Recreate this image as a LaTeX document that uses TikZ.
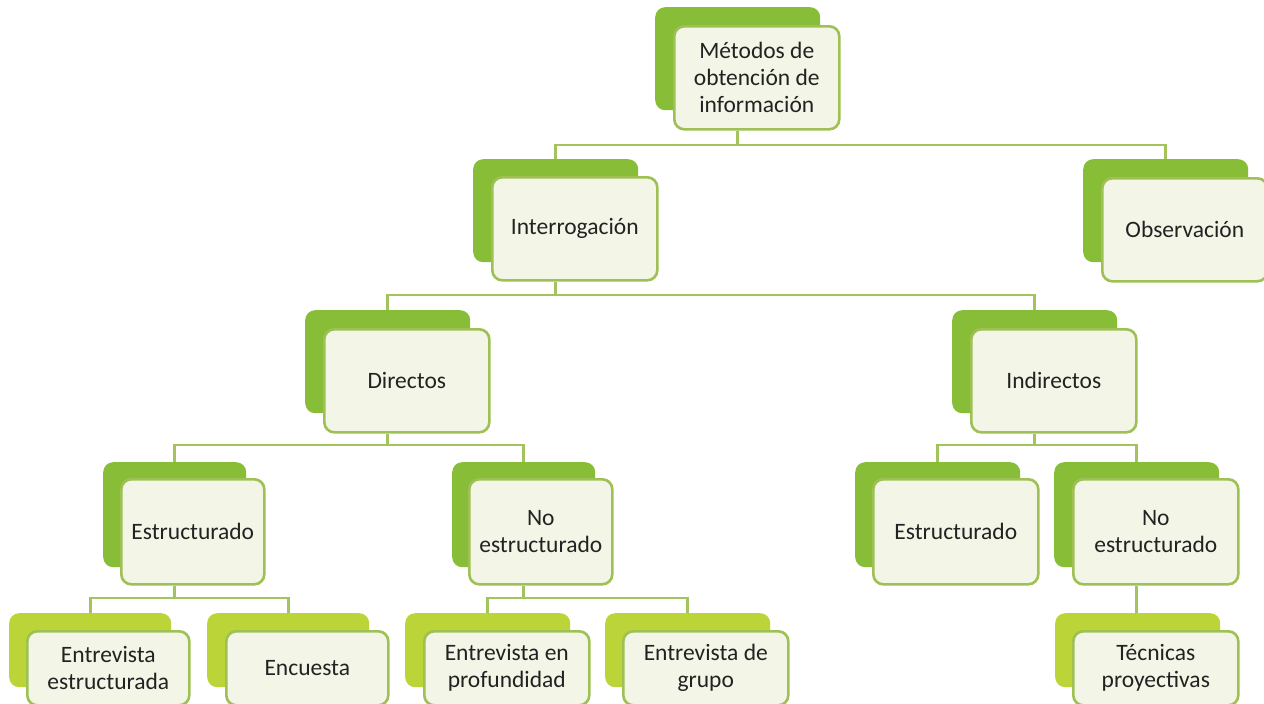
\documentclass[tikz,border=0pt]{standalone}
\usepackage{fontspec}
\setmainfont{Carlito}
\definecolor{backgreen}{HTML}{88BD38}
\definecolor{backyellow}{HTML}{BBD437}
\definecolor{frontline}{HTML}{9EC055}
\definecolor{frontfill}{HTML}{F3F5E7}
\definecolor{connline}{HTML}{A3C45C}
\definecolor{textcol}{HTML}{222222}
\tikzset{
  backbox/.style={fill=#1, rounded corners=10pt, inner sep=0pt, anchor=north west},
  frontbox/.style={draw=frontline, line width=2.6pt, fill=frontfill, rounded corners=10pt,
    inner sep=0pt, anchor=north west, align=center, text=textcol,
    font=\fontsize{23.5}{27}\selectfont},
  bigsize/.style={minimum width=165pt, minimum height=103pt},
  midsize/.style={minimum width=143pt, minimum height=105pt},
  widesize/.style={minimum width=165pt, minimum height=105pt},
  lowsize/.style={minimum width=162pt, minimum height=74pt},
  lowwide/.style={minimum width=165pt, minimum height=74pt},
  conn/.style={draw=connline, line width=2.6pt}
}
\begin{document}
\begin{tikzpicture}[x=1pt,y=-1pt]
\useasboundingbox (0,0) rectangle (1264,704);
\fill[white] (0,0) rectangle (1264,704);
% level 1
\node[backbox=backgreen, bigsize] (b1) at (655,7) {};
\node[frontbox, bigsize] (m1) at (673,25) {Métodos de\\obtención de\\información};
% level 2
\node[backbox=backgreen, bigsize] (b2) at (473,159) {};
\node[frontbox, bigsize] (m2) at (491,176) {Interrogación};
\node[backbox=backgreen, bigsize] (b3) at (1083,159) {};
\node[frontbox, bigsize] (m3) at (1101,177) {Observación};
% level 3
\node[backbox=backgreen, bigsize] (b4) at (305,310) {};
\node[frontbox, bigsize] (m4) at (323,328) {Directos};
\node[backbox=backgreen, bigsize] (b5) at (952,310) {};
\node[frontbox, bigsize] (m5) at (970,328) {Indirectos};
% level 4
\node[backbox=backgreen, midsize] (b6) at (103,462) {};
\node[frontbox, midsize] (m6) at (120,478) {Estructurado};
\node[backbox=backgreen, midsize] (b7) at (452,462) {};
\node[frontbox, midsize] (m7) at (468,478) {No\\estructurado};
\node[backbox=backgreen, widesize] (b8) at (855,462) {};
\node[frontbox, widesize] (m8) at (872,478) {Estructurado};
\node[backbox=backgreen, widesize] (b9) at (1054,462) {};
\node[frontbox, widesize] (m9) at (1072,478) {No\\estructurado};
% level 5
\node[backbox=backyellow, lowsize] (b10) at (9,613) {};
\node[frontbox, lowsize] (m10) at (26,630) {Entrevista\\estructurada};
\node[backbox=backyellow, lowsize] (b11) at (207,613) {};
\node[frontbox, lowsize] (m11) at (225,630) {Encuesta};
\node[backbox=backyellow, lowwide] (b12) at (405,613) {};
\node[frontbox, lowwide] (m12) at (423,630) {Entrevista en\\profundidad};
\node[backbox=backyellow, lowwide] (b13) at (605,613) {};
\node[frontbox, lowwide] (m13) at (622,630) {Entrevista de\\grupo};
\node[backbox=backyellow, lowwide] (b14) at (1055,613) {};
\node[frontbox, lowwide] (m14) at (1072,630) {Técnicas\\proyectivas};
% bar levels
\coordinate (bar1) at (0,145);
\coordinate (bar2) at (0,295);
\coordinate (bar3) at (0,445);
\coordinate (bar4) at (0,598);
% connectors
\draw[conn] (b1.south |- m1.south) -- (b1.south |- bar1) -| (b2.north);
\draw[conn] (b1.south |- m1.south) -- (b1.south |- bar1) -| (b3.north);
\draw[conn] (b2.south |- m2.south) -- (b2.south |- bar2) -| (b4.north);
\draw[conn] (b2.south |- m2.south) -- (b2.south |- bar2) -| (b5.north);
\draw[conn] (b4.south |- m4.south) -- (b4.south |- bar3) -| (b6.north);
\draw[conn] (b4.south |- m4.south) -- (b4.south |- bar3) -| (b7.north);
\draw[conn] (b5.south |- m5.south) -- (b5.south |- bar3) -| (b8.north);
\draw[conn] (b5.south |- m5.south) -- (b5.south |- bar3) -| (b9.north);
\draw[conn] (b6.south |- m6.south) -- (b6.south |- bar4) -| (b10.north);
\draw[conn] (b6.south |- m6.south) -- (b6.south |- bar4) -| (b11.north);
\draw[conn] (b7.south |- m7.south) -- (b7.south |- bar4) -| (b12.north);
\draw[conn] (b7.south |- m7.south) -- (b7.south |- bar4) -| (b13.north);
\draw[conn] (b9.south |- m9.south) -- (b9.south |- b14.north);
\end{tikzpicture}
\end{document}
